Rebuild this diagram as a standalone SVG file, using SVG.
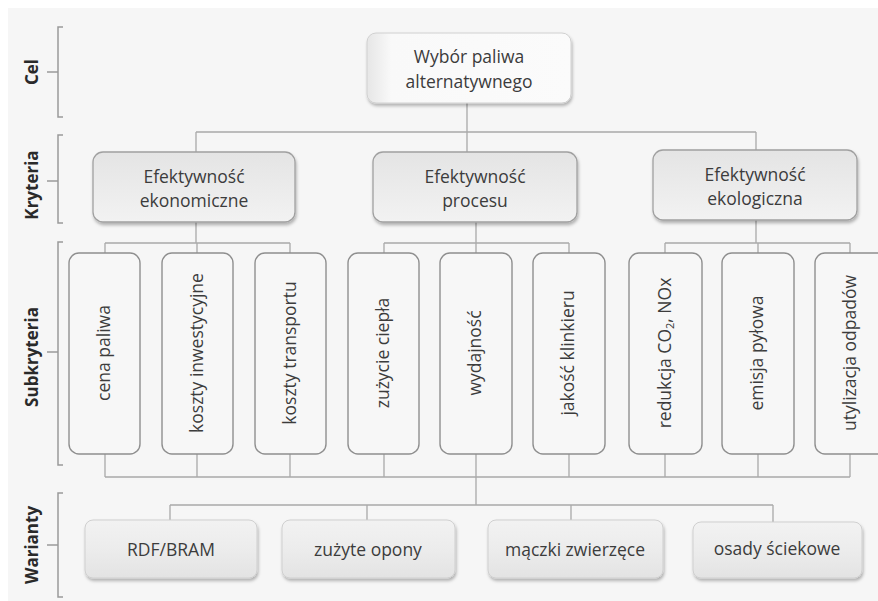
<svg xmlns="http://www.w3.org/2000/svg" width="878" height="601" viewBox="0 0 878 601">
<defs>
  <linearGradient id="gKry" x1="0" y1="0" x2="0" y2="1">
    <stop offset="0" stop-color="#e4e4e4"/>
    <stop offset="0.5" stop-color="#ebebeb"/>
    <stop offset="1" stop-color="#f2f2f2"/>
  </linearGradient>
  <linearGradient id="gTop" x1="0" y1="0" x2="1" y2="0">
    <stop offset="0" stop-color="#e6e6e6"/>
    <stop offset="0.12" stop-color="#f9f9f9"/>
    <stop offset="1" stop-color="#fbfbfb"/>
  </linearGradient>
  <linearGradient id="gVar" x1="0" y1="0" x2="0" y2="1">
    <stop offset="0" stop-color="#f2f2f2"/>
    <stop offset="0.5" stop-color="#ececec"/>
    <stop offset="1" stop-color="#e3e3e3"/>
  </linearGradient>
  <filter id="shadow" x="-10%" y="-10%" width="125%" height="135%">
    <feDropShadow dx="1" dy="2.5" stdDeviation="1.6" flood-color="#000" flood-opacity="0.28"/>
  </filter>
</defs>
<style>
  .lbl { font-family: "Open Sans", "Liberation Sans", sans-serif; font-weight: bold; font-size: 17px; fill: #2a2a2a; }
  .txt { font-family: "Open Sans", "Liberation Sans", sans-serif; font-size: 17.5px; fill: #3c3c3c; }
  .brk { fill: none; stroke: #9a9a9a; stroke-width: 1.5; }
  .con { fill: none; stroke: #a9a9a9; stroke-width: 1.3; }
  .kry { fill: url(#gKry); stroke: #a0a0a0; stroke-width: 1.3; filter: url(#shadow); }
  .top { fill: url(#gTop); stroke: #d0d0d0; stroke-width: 1; filter: url(#shadow); }
  .sub { fill: #f7f7f7; stroke: #8f8f8f; stroke-width: 1.4; }
  .var { fill: url(#gVar); stroke: #cfcfcf; stroke-width: 1; filter: url(#shadow); }
</style>
<rect x="0" y="0" width="878" height="601" fill="#ffffff"/>
<rect x="8" y="8" width="870" height="593" fill="#f6f6f6"/>

<g id="levels">
  <g id="level-cel">
    <path class="brk" d="M63 27 H58 V117 H63 M47 72 H58"/>
    <text class="lbl" transform="translate(38 72) rotate(-90)" text-anchor="middle">Cel</text>
  </g>
  <g id="level-kryteria">
    <path class="brk" d="M63 135 H58 V223 H63 M47 181 H58"/>
    <text class="lbl" transform="translate(38 185) rotate(-90)" text-anchor="middle">Kryteria</text>
  </g>
  <g id="level-subkryteria">
    <path class="brk" d="M63 242 H58 V465 H63 M47 352 H58"/>
    <text class="lbl" transform="translate(38 357) rotate(-90)" text-anchor="middle">Subkryteria</text>
  </g>
  <g id="level-warianty">
    <path class="brk" d="M63 493 H58 V597 H63 M47 545 H58"/>
    <text class="lbl" transform="translate(38 545) rotate(-90)" text-anchor="middle">Warianty</text>
  </g>
</g>

<g id="connectors">
  <path class="con" d="M467 103 V152 M196 132 H756 M196 132 V152 M756 132 V152"/>
  <path class="con" d="M196 222 V243 M105 243 H290 M105 243 V253 M197 243 V253 M290 243 V253"/>
  <path class="con" d="M476 222 V243 M384 243 H569 M384 243 V253 M476 243 V253 M569 243 V253"/>
  <path class="con" d="M756 220 V243 M665 243 H850 M665 243 V253 M758 243 V253 M850 243 V253"/>
  <path class="con" d="M105 454 V477 M197 454 V477 M290 454 V477 M384 454 V477 M476 454 V477 M569 454 V477 M665 454 V477 M758 454 V477 M850 454 V477 M105 477 H850"/>
  <path class="con" d="M476 477 V505 M170 505 H773 M170 505 V520 M367 505 V520 M571 505 V520 M773 505 V522"/>
</g>

<g id="node-cel">
  <rect class="top" x="367" y="33" width="204" height="70" rx="9"/>
  <text class="txt" x="469" y="63" text-anchor="middle">Wybór paliwa</text>
  <text class="txt" x="469" y="88" text-anchor="middle">alternatywnego</text>
</g>

<g id="node-kry-ekonomiczne">
  <rect class="kry" x="93" y="152" width="202" height="70" rx="10"/>
  <text class="txt" x="194" y="183" text-anchor="middle">Efektywność</text>
  <text class="txt" x="194" y="207" text-anchor="middle">ekonomiczne</text>
</g>
<g id="node-kry-procesu">
  <rect class="kry" x="373" y="152" width="204" height="70" rx="10"/>
  <text class="txt" x="475" y="183" text-anchor="middle">Efektywność</text>
  <text class="txt" x="475" y="207" text-anchor="middle">procesu</text>
</g>
<g id="node-kry-ekologiczna">
  <rect class="kry" x="653" y="150" width="204" height="70" rx="10"/>
  <text class="txt" x="755" y="181" text-anchor="middle">Efektywność</text>
  <text class="txt" x="755" y="205" text-anchor="middle">ekologiczna</text>
</g>

<g id="node-sub-1">
  <rect class="sub" x="69" y="253" width="71" height="201" rx="10"/>
  <text class="txt" transform="translate(110 353) rotate(-90)" text-anchor="middle">cena paliwa</text>
</g>
<g id="node-sub-2">
  <rect class="sub" x="162" y="253" width="71" height="201" rx="10"/>
  <text class="txt" transform="translate(203 353) rotate(-90)" text-anchor="middle">koszty inwestycyjne</text>
</g>
<g id="node-sub-3">
  <rect class="sub" x="255" y="253" width="71" height="201" rx="10"/>
  <text class="txt" transform="translate(296 353) rotate(-90)" text-anchor="middle">koszty transportu</text>
</g>
<g id="node-sub-4">
  <rect class="sub" x="348" y="253" width="71" height="201" rx="10"/>
  <text class="txt" transform="translate(389 353) rotate(-90)" text-anchor="middle">zużycie ciepła</text>
</g>
<g id="node-sub-5">
  <rect class="sub" x="440" y="253" width="72" height="201" rx="10"/>
  <text class="txt" transform="translate(481 353) rotate(-90)" text-anchor="middle">wydajność</text>
</g>
<g id="node-sub-6">
  <rect class="sub" x="533" y="253" width="72" height="201" rx="10"/>
  <text class="txt" transform="translate(574 353) rotate(-90)" text-anchor="middle">jakość klinkieru</text>
</g>
<g id="node-sub-7">
  <rect class="sub" x="629" y="253" width="73" height="201" rx="10"/>
  <text class="txt" transform="translate(671 353) rotate(-90)" text-anchor="middle">redukcja CO<tspan font-size="11" dy="3">2</tspan><tspan dy="-3">, NOx</tspan></text>
</g>
<g id="node-sub-8">
  <rect class="sub" x="722" y="253" width="72" height="201" rx="10"/>
  <text class="txt" transform="translate(763 353) rotate(-90)" text-anchor="middle">emisja pyłowa</text>
</g>
<g id="node-sub-9">
  <rect class="sub" x="815" y="253" width="72" height="201" rx="10"/>
  <text class="txt" transform="translate(856 353) rotate(-90)" text-anchor="middle">utylizacja odpadów</text>
</g>

<g id="node-var-1">
  <rect class="var" x="85" y="520" width="172" height="58" rx="8"/>
  <text class="txt" x="171" y="556" text-anchor="middle">RDF/BRAM</text>
</g>
<g id="node-var-2">
  <rect class="var" x="282" y="520" width="173" height="58" rx="8"/>
  <text class="txt" x="368" y="556" text-anchor="middle">zużyte opony</text>
</g>
<g id="node-var-3">
  <rect class="var" x="488" y="520" width="175" height="58" rx="8"/>
  <text class="txt" x="575" y="556" text-anchor="middle">mączki zwierzęce</text>
</g>
<g id="node-var-4">
  <rect class="var" x="693" y="522" width="169" height="56" rx="8"/>
  <text class="txt" x="777" y="555" text-anchor="middle">osady ściekowe</text>
</g>
</svg>
